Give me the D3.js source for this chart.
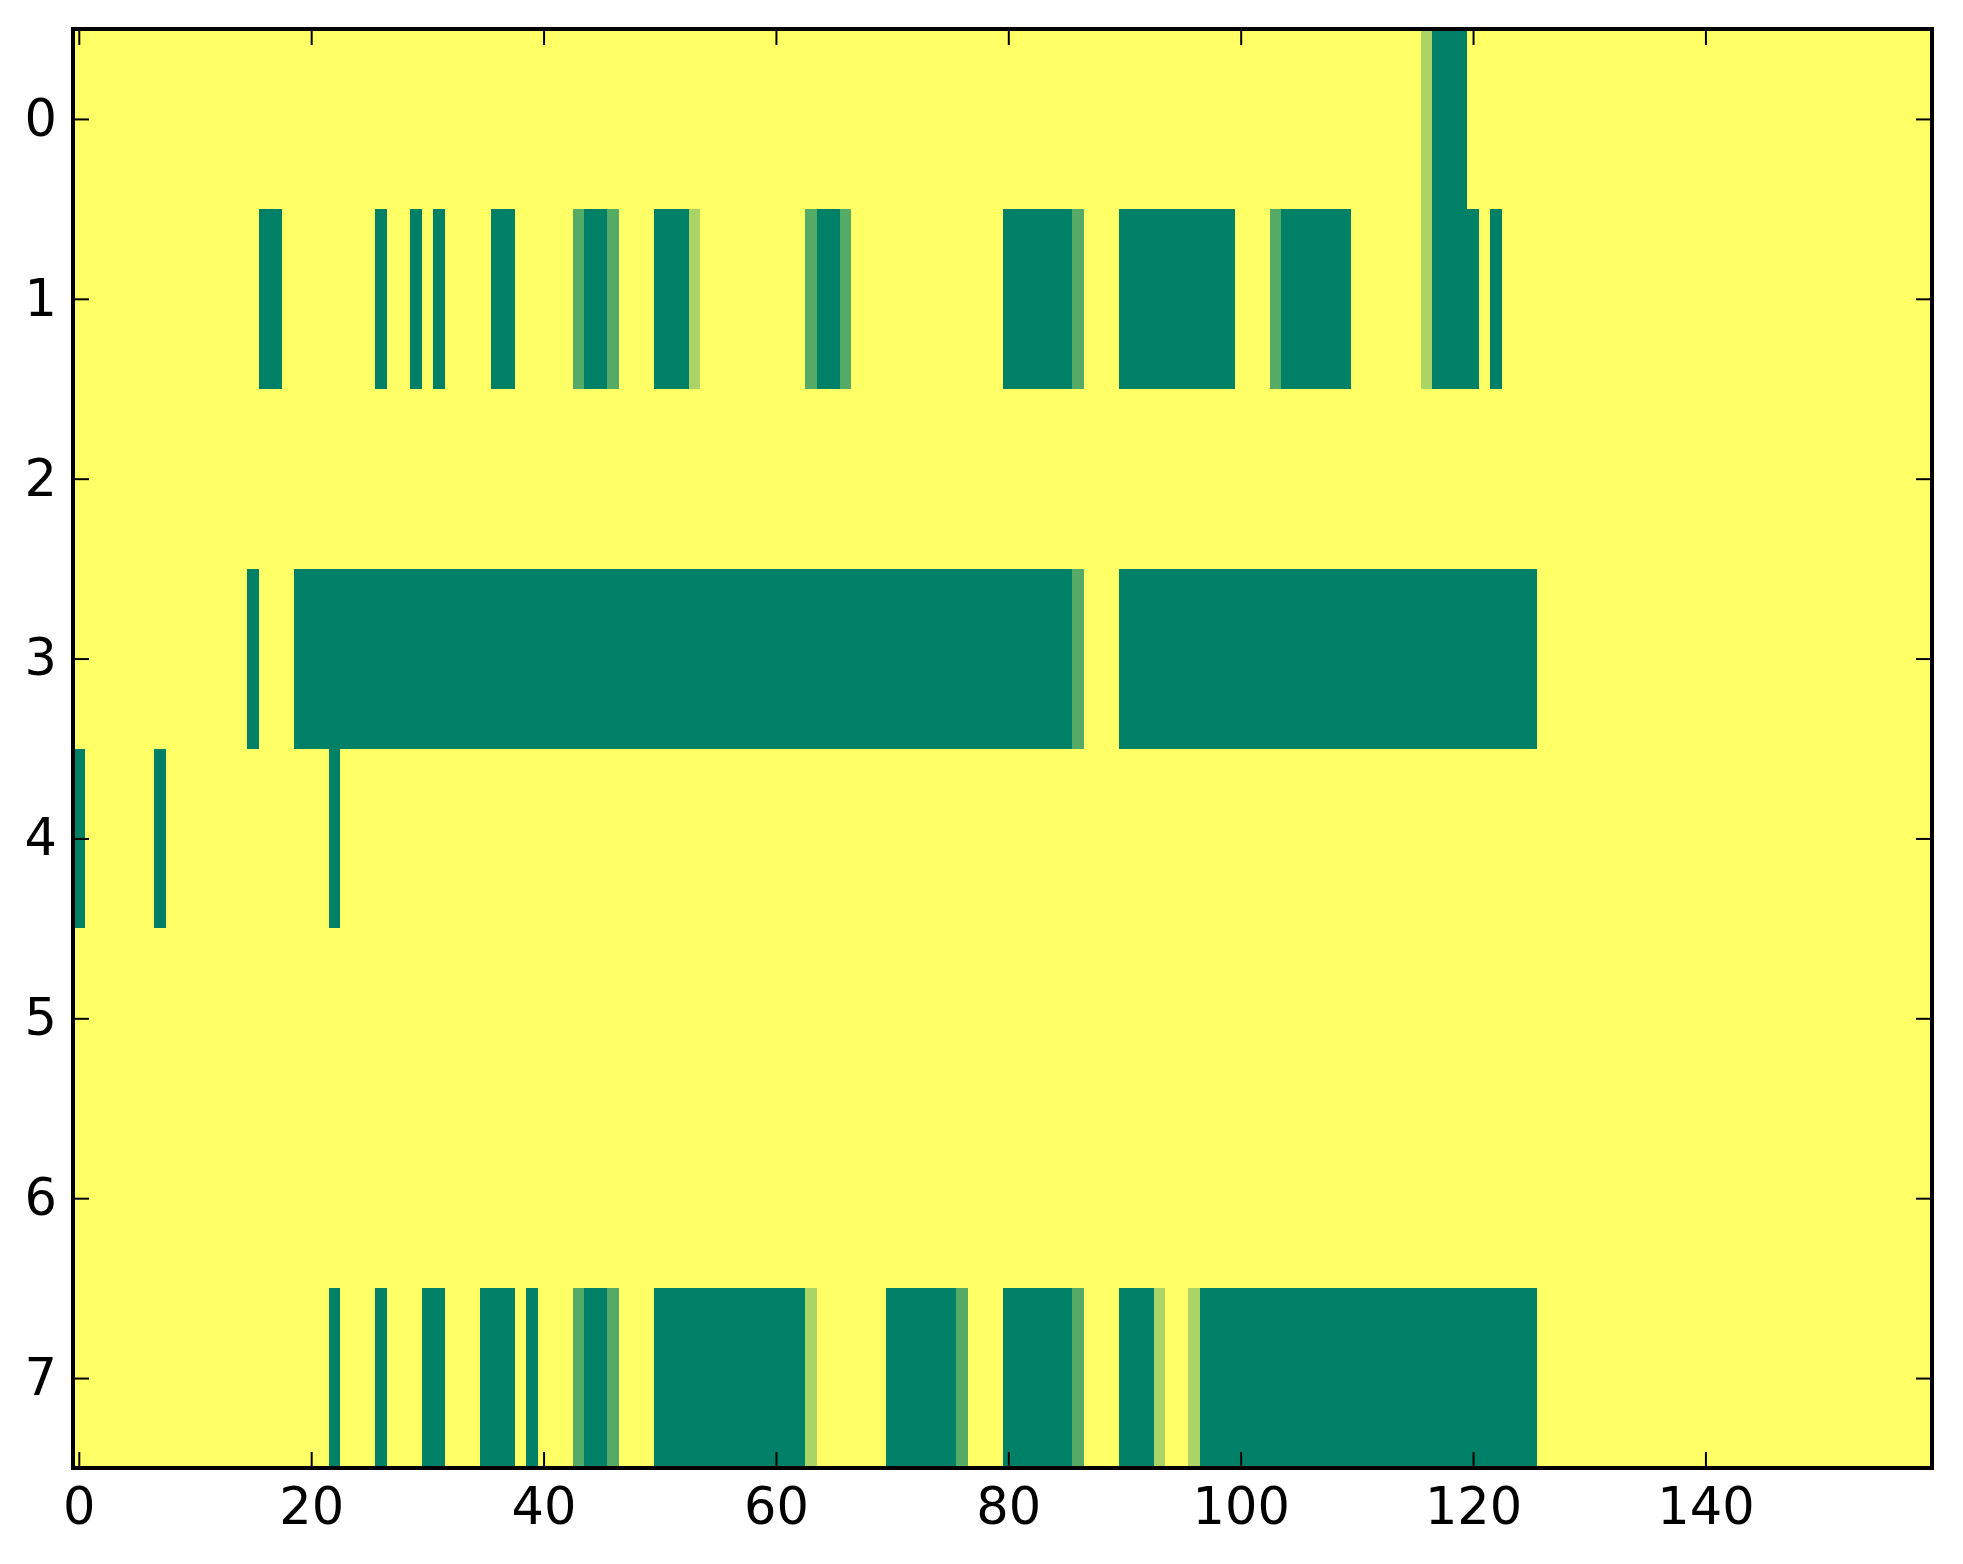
<!DOCTYPE html>
<html>
<head>
<meta charset="utf-8">
<script src="https://cdn.jsdelivr.net/npm/d3@7"></script>
<style>
  body { margin: 0; background: #fff; }
  .tick text { font-family: 'DejaVu Sans', sans-serif; font-size: 51px; fill: #000; }
  .tick line { stroke: #000; stroke-width: 2; }
</style>
</head>
<body>
<div id="chart"></div>
<script>
  'use strict';

  // grid size
  var nCols = 160,
      nRows = 8;

  // cell levels: 0 dark green, 1/3 mid, 2/3 light, 1 yellow
  var D = 0, M = 1 / 3, L = 2 / 3, BG = 1;

  // runs of non-yellow cells per row: [firstCol, lastCol, value]
  var row0 = [[116, 116, L], [117, 119, D]];
  var row1 = [[16, 17, D], [26, 26, D], [29, 29, D], [31, 31, D], [36, 37, D],
              [43, 43, M], [44, 45, D], [46, 46, M], [50, 52, D], [53, 53, L],
              [63, 63, M], [64, 65, D], [66, 66, M], [80, 85, D], [86, 86, M],
              [90, 99, D], [103, 103, M], [104, 109, D], [116, 116, L],
              [117, 120, D], [122, 122, D]];
  var row2 = [];
  var row3 = [[15, 15, D], [19, 85, D], [86, 86, M], [90, 125, D]];
  var row4 = [[0, 0, D], [7, 7, D], [22, 22, D]];
  var row5 = [];
  var row6 = [];
  var row7 = [[22, 22, D], [26, 26, D], [30, 31, D], [35, 37, D], [39, 39, D],
              [43, 43, M], [44, 45, D], [46, 46, M], [50, 62, D], [63, 63, L],
              [70, 75, D], [76, 76, M], [80, 85, D], [86, 86, M], [90, 92, D],
              [93, 93, L], [96, 96, L], [97, 125, D]];

  var rows = [row0, row1, row2, row3, row4, row5, row6, row7];

  var xTicks = [0, 20, 40, 60, 80, 100, 120, 140],
      yTicks = [0, 1, 2, 3, 4, 5, 6, 7];

  // expand runs into cells
  var cells = [];
  rows.forEach(function (runs, r) {
    var vals = new Array(nCols).fill(BG);
    runs.forEach(function (s) {
      for (var c = s[0]; c <= s[1]; c++) vals[c] = s[2];
    });
    vals.forEach(function (v, c) { cells.push({ row: r, col: c, value: v }); });
  });

  var W = 1963, H = 1564,
      margin = { left: 73, top: 29, right: 31, bottom: 96 };

  var svg = d3.select('#chart')
    .append('svg')
      .attr('width', W)
      .attr('height', H);

  var x = d3.scaleLinear()
    .domain([-0.5, nCols - 0.5])
    .range([margin.left, W - margin.right]);

  var y = d3.scaleLinear()
    .domain([-0.5, nRows - 0.5])
    .range([margin.top, H - margin.bottom]);

  // matplotlib "summer" colormap
  var color = d3.scaleLinear()
    .domain([0, 1])
    .range(['rgb(0,128,102)', 'rgb(255,255,102)']);

  svg.append('g')
    .attr('shape-rendering', 'crispEdges')
    .selectAll('rect')
    .data(cells)
    .enter()
    .append('rect')
      .attr('x', function (d) { return x(d.col - 0.5); })
      .attr('y', function (d) { return y(d.row - 0.5); })
      .attr('width', function (d) { return x(d.col + 0.5) - x(d.col - 0.5) + 0.5; })
      .attr('height', function (d) { return y(d.row + 0.5) - y(d.row - 0.5) + 0.5; })
      .attr('fill', function (d) { return color(d.value); });

  var tickLen = 16;

  var xAxis = svg.append('g')
    .attr('transform', 'translate(0,' + (H - margin.bottom) + ')')
    .call(d3.axisBottom(x).tickValues(xTicks).tickSizeInner(-tickLen).tickSizeOuter(0).tickPadding(20));

  var xAxisTop = svg.append('g')
    .attr('transform', 'translate(0,' + margin.top + ')')
    .call(d3.axisTop(x).tickValues(xTicks).tickSizeInner(-tickLen).tickSizeOuter(0).tickFormat(''));

  var yAxis = svg.append('g')
    .attr('transform', 'translate(' + margin.left + ',0)')
    .call(d3.axisLeft(y).tickValues(yTicks).tickSizeInner(-tickLen).tickSizeOuter(0).tickPadding(16));

  var yAxisRight = svg.append('g')
    .attr('transform', 'translate(' + (W - margin.right) + ',0)')
    .call(d3.axisRight(y).tickValues(yTicks).tickSizeInner(-tickLen).tickSizeOuter(0).tickFormat(''));

  [xAxis, xAxisTop, yAxis, yAxisRight].forEach(function (g) {
    g.select('.domain').remove();
  });

  // frame
  svg.append('rect')
    .attr('x', margin.left)
    .attr('y', margin.top)
    .attr('width', W - margin.left - margin.right)
    .attr('height', H - margin.top - margin.bottom)
    .attr('fill', 'none')
    .attr('stroke', '#000')
    .attr('stroke-width', 4);
</script>
</body>
</html>
